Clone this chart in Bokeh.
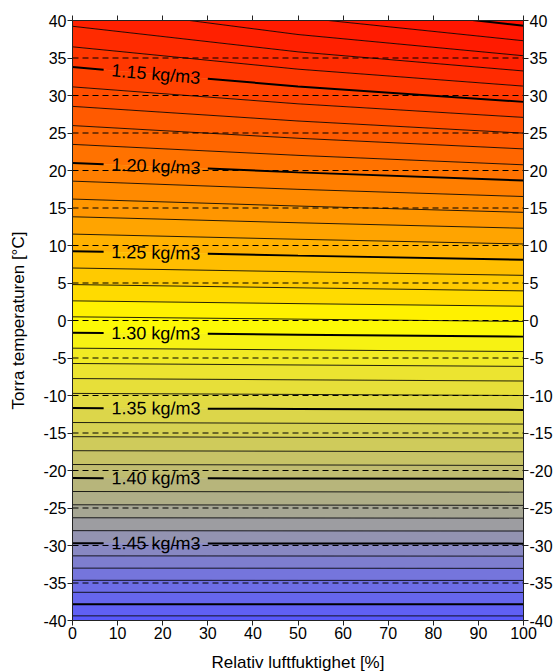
import math
from bokeh.plotting import figure
from bokeh.models import Range1d, LinearAxis, FixedTicker, Span
from bokeh.embed import file_html
from bokeh.resources import INLINE
from bokeh.core.properties import value

# ---------------- data ----------------
x_range_vals = [0, 100]          # Relativ luftfuktighet [%]
y_range_vals = [-40, 40]         # Torra temperaturen [°C]
x_ticks = [0, 10, 20, 30, 40, 50, 60, 70, 80, 90, 100]
y_ticks = [-40, -35, -30, -25, -20, -15, -10, -5, 0, 5, 10, 15, 20, 25, 30, 35, 40]

rh_points = [0, 50, 100]
levels = [1.10, 1.11, 1.12, 1.13, 1.14, 1.15, 1.16, 1.17, 1.18, 1.19,
          1.20, 1.21, 1.22, 1.23, 1.24, 1.25, 1.26, 1.27, 1.28, 1.29,
          1.30, 1.31, 1.32, 1.33, 1.34, 1.35, 1.36, 1.37, 1.38, 1.39,
          1.40, 1.41, 1.42, 1.43, 1.44, 1.45, 1.46, 1.47, 1.48, 1.49,
          1.50, 1.51]
t_rh0 = [47.75, 44.86, 42.02, 39.23, 36.49, 33.80, 31.15, 28.55, 25.99, 23.48,
         21.01, 18.58, 16.19, 13.83, 11.52, 9.24, 7.00, 4.79, 2.62, 0.49,
         -1.62, -3.69, -5.73, -7.74, -9.72, -11.68, -13.60, -15.49, -17.36, -19.20,
         -21.01, -22.80, -24.57, -26.30, -28.02, -29.71, -31.38, -33.02, -34.64, -36.24,
         -37.82, -39.38]
t_rh50 = [42.68, 40.42, 38.13, 35.82, 33.51, 31.20, 28.89, 26.60, 24.30, 22.02,
          19.75, 17.49, 15.26, 13.03, 10.83, 8.65, 6.50, 4.36, 2.25, 0.18,
          -1.89, -3.92, -5.93, -7.91, -9.86, -11.80, -13.70, -15.58, -17.43, -19.26,
          -21.06, -22.84, -24.61, -26.33, -28.05, -29.73, -31.40, -33.03, -34.65, -36.25,
          -37.83, -39.38]
t_rh100 = [39.30, 37.30, 35.30, 33.27, 31.25, 29.15, 27.08, 24.98, 22.88, 20.76,
           18.66, 16.53, 14.42, 12.30, 10.20, 8.10, 6.02, 3.95, 1.90, -0.13,
           -2.15, -4.14, -6.12, -8.07, -10.00, -11.92, -13.81, -15.66, -17.51, -19.33,
           -21.12, -22.89, -24.65, -26.36, -28.07, -29.75, -31.42, -33.05, -34.66, -36.26,
           -37.84, -39.39]
thick_levels = [1.10, 1.15, 1.20, 1.25, 1.30, 1.35, 1.40, 1.45, 1.50]
label_levels = [1.15, 1.20, 1.25, 1.30, 1.35, 1.40, 1.45]
label_rh = 18.5
label_gap = [6.9, 30.0]

# colour map anchors (style)
cmap_anchors = [
    (1.09, (255, 14, 0)), (1.125, (255, 32, 0)), (1.153, (255, 64, 0)),
    (1.172, (255, 86, 0)), (1.20, (255, 120, 0)), (1.225, (255, 150, 0)),
    (1.25, (255, 184, 0)), (1.27, (255, 208, 0)), (1.29, (255, 252, 0)),
    (1.30, (250, 246, 10)), (1.317, (240, 232, 40)), (1.342, (228, 220, 64)),
    (1.368, (212, 208, 84)), (1.395, (192, 188, 112)), (1.423, (168, 168, 144)),
    (1.44, (152, 152, 168)), (1.455, (136, 136, 194)), (1.48, (112, 112, 226)),
    (1.52, (86, 86, 255)),
]

FRAME_W, FRAME_H = 451, 600
FONT = "Liberation Sans"


def cmap(v):
    if v <= cmap_anchors[0][0]:
        c = cmap_anchors[0][1]
    elif v >= cmap_anchors[-1][0]:
        c = cmap_anchors[-1][1]
    else:
        for (a, ca), (b, cb) in zip(cmap_anchors[:-1], cmap_anchors[1:]):
            if a <= v <= b:
                f = (v - a) / (b - a)
                c = tuple(ca[i] + f * (cb[i] - ca[i]) for i in range(3))
                break
    return "#%02x%02x%02x" % tuple(int(round(x)) for x in c)


def t_at(rh, ts):
    for i in range(len(rh_points) - 1):
        a, b = rh_points[i], rh_points[i + 1]
        if a <= rh <= b:
            f = (rh - a) / (b - a)
            return ts[i] + f * (ts[i + 1] - ts[i])
    return ts[-1]


curves = [[a, b, c] for a, b, c in zip(t_rh0, t_rh50, t_rh100)]

# ---------------- figure ----------------
p = figure(frame_width=FRAME_W, frame_height=FRAME_H,
           x_range=Range1d(*x_range_vals), y_range=Range1d(*y_range_vals),
           output_backend="svg", toolbar_location=None,
           x_axis_location=None, y_axis_location=None,
           min_border_left=72, min_border_right=34,
           min_border_top=20, min_border_bottom=52,
           background_fill_color="white", border_fill_color="white")
p.xgrid.visible = False
p.ygrid.visible = False
p.outline_line_color = "#222222"

# filled bands
band_xs, band_ys, band_cols = [], [], []
band_xs.append(rh_points + [x_range_vals[1], x_range_vals[0]])
band_ys.append(curves[0] + [y_range_vals[1], y_range_vals[1]])
band_cols.append(cmap(levels[0] - 0.005))
for k in range(len(levels) - 1):
    band_xs.append(rh_points + rh_points[::-1])
    band_ys.append(curves[k] + curves[k + 1][::-1])
    band_cols.append(cmap((levels[k] + levels[k + 1]) / 2))
band_xs.append(rh_points + [x_range_vals[1], x_range_vals[0]])
band_ys.append(curves[-1] + [y_range_vals[0], y_range_vals[0]])
band_cols.append(cmap(levels[-1] + 0.005))
p.patches(xs=band_xs, ys=band_ys, fill_color=band_cols, line_color=band_cols,
          line_width=0.5)

# contour lines
thin_xs, thin_ys, thick_xs, thick_ys = [], [], [], []
for lev, ts in zip(levels, curves):
    is_thick = any(abs(lev - t) < 1e-6 for t in thick_levels)
    is_lab = any(abs(lev - t) < 1e-6 for t in label_levels)
    if is_lab:
        g0, g1 = label_gap
        seg1_x = [rh_points[0], g0]
        seg1_y = [ts[0], t_at(g0, ts)]
        seg2_x = [g1] + [r for r in rh_points if r > g1]
        seg2_y = [t_at(g1, ts)] + [t for r, t in zip(rh_points, ts) if r > g1]
        segs = [(seg1_x, seg1_y), (seg2_x, seg2_y)]
    else:
        segs = [(list(rh_points), list(ts))]
    for sx, sy in segs:
        if is_thick:
            thick_xs.append(sx); thick_ys.append(sy)
        else:
            thin_xs.append(sx); thin_ys.append(sy)
p.multi_line(xs=thin_xs, ys=thin_ys, line_color="black", line_width=1, line_alpha=0.85)
p.multi_line(xs=thick_xs, ys=thick_ys, line_color="black", line_width=2)

# dashed grid
for t in y_ticks:
    if y_range_vals[0] < t < y_range_vals[1]:
        p.add_layout(Span(location=t, dimension="width", line_color="black",
                          line_width=1, line_dash="6 4"))

# labels
lab_x, lab_y, lab_t, lab_a = [], [], [], []
for lev, ts in zip(levels, curves):
    if any(abs(lev - t) < 1e-6 for t in label_levels):
        y0 = t_at(label_rh - 5, ts)
        y1 = t_at(label_rh + 5, ts)
        ang = math.atan2((y1 - y0) * FRAME_H / (y_range_vals[1] - y_range_vals[0]),
                         10 * FRAME_W / (x_range_vals[1] - x_range_vals[0]))
        lab_x.append(label_rh)
        lab_y.append(t_at(label_rh, ts))
        lab_t.append(f"{lev:.2f} kg/m3")
        lab_a.append(ang)
p.text(x=lab_x, y=lab_y, text=lab_t, angle=lab_a, text_align="center",
       text_baseline="middle", text_font=value(FONT), text_font_size="18px",
       text_color="black")


# axes
def style_axis(ax):
    ax.major_tick_out = 5
    ax.major_tick_in = 0
    ax.minor_tick_line_color = None
    ax.axis_line_color = "#222222"
    ax.major_tick_line_color = "#222222"
    ax.major_label_text_font = FONT
    ax.major_label_text_font_size = "16px"
    ax.major_label_text_color = "black"
    ax.major_label_standoff = 1
    ax.axis_label_text_font = FONT
    ax.axis_label_text_font_size = "17px"
    ax.axis_label_text_font_style = "normal"
    ax.axis_label_text_color = "black"


bottom = LinearAxis(ticker=FixedTicker(ticks=x_ticks), axis_label="Relativ luftfuktighet [%]")
style_axis(bottom)
bottom.axis_label_standoff = 11
p.add_layout(bottom, "below")

top = LinearAxis(ticker=FixedTicker(ticks=x_ticks))
style_axis(top)
top.major_label_overrides = {t: "" for t in x_ticks}
p.add_layout(top, "above")

left = LinearAxis(ticker=FixedTicker(ticks=y_ticks), axis_label="Torra temperaturen [°C]")
style_axis(left)
left.major_label_overrides = {t: str(t) for t in y_ticks}
left.axis_label_standoff = 12
p.add_layout(left, "left")

right = LinearAxis(ticker=FixedTicker(ticks=y_ticks))
style_axis(right)
right.major_label_overrides = {t: str(t) for t in y_ticks}
p.add_layout(right, "right")

open("out.html", "w").write(file_html(p, INLINE))
